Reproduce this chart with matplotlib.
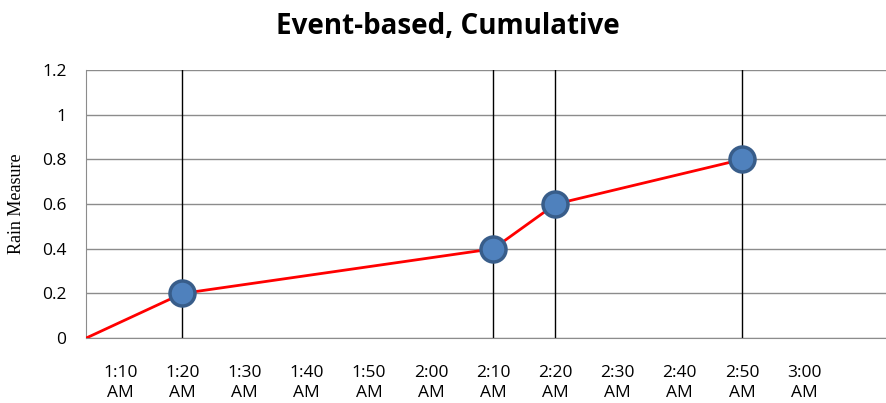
import matplotlib.pyplot as plt
from matplotlib.ticker import FixedLocator, FuncFormatter


times = ['1:04:30', '1:20', '2:10', '2:20', '2:50']
rain = [0, 0.2, 0.4, 0.6, 0.8]
event_idx = [1, 2, 3, 4]   # points that got a marker and a vertical line
tick_times = ['1:10', '1:20', '1:30', '1:40', '1:50', '2:00', '2:10',
              '2:20', '2:30', '2:40', '2:50', '3:00']
y_ticks = [0, 0.2, 0.4, 0.6, 0.8, 1, 1.2]


def to_min(s):
    parts = [float(p) for p in s.split(':')]
    m = parts[0] * 60 + parts[1]
    if len(parts) > 2:
        m += parts[2] / 60
    return m


def fmt_time(v, pos=None):
    h = int(v // 60)
    m = int(round(v - h * 60))
    return '{}:{:02d}\nAM'.format(h, m)


x = [to_min(t) for t in times]
xt = [to_min(t) for t in tick_times]

fig = plt.figure(figsize=(8.87, 4.03), dpi=100)
ax = fig.add_axes([0.097, 0.161, 0.903, 0.665])

for i in event_idx:
    ax.axvline(x[i], color='black', lw=1, zorder=2)

ax.plot(x, rain, color='red', lw=2, zorder=3)
ax.plot([x[i] for i in event_idx], [rain[i] for i in event_idx], 'o',
        ms=18, mfc='#4F81BD', mec='#385D8A', mew=2.5, zorder=4)

ax.set_xlim(x[0], to_min('3:13:20'))
ax.set_ylim(0, 1.2)
ax.set_yticks(y_ticks)
ax.yaxis.set_major_formatter(FuncFormatter(lambda v, p: '{:g}'.format(v)))
ax.xaxis.set_major_locator(FixedLocator(xt))
ax.xaxis.set_major_formatter(FuncFormatter(fmt_time))
ax.grid(axis='y', color='#8c8c8c', lw=1)
ax.set_axisbelow(True)

for s in ['top', 'right']:
    ax.spines[s].set_visible(False)
for s in ['left', 'bottom']:
    ax.spines[s].set_color('#8c8c8c')
ax.tick_params(length=0, labelsize=12.5, colors='black')
ax.tick_params(axis='x', pad=19)
ax.tick_params(axis='y', pad=14)
for lab in ax.get_xticklabels() + ax.get_yticklabels():
    lab.set_family('Open Sans')
    lab.set_linespacing(1.4)

ax.set_ylabel('Rain Measure', family='Liberation Serif', fontsize=13, labelpad=12)
fig.suptitle('Event-based, Cumulative', x=0.505, y=0.97, family='Open Sans',
             fontweight='bold', fontsize=20)

plt.savefig('out.png', dpi=100)
